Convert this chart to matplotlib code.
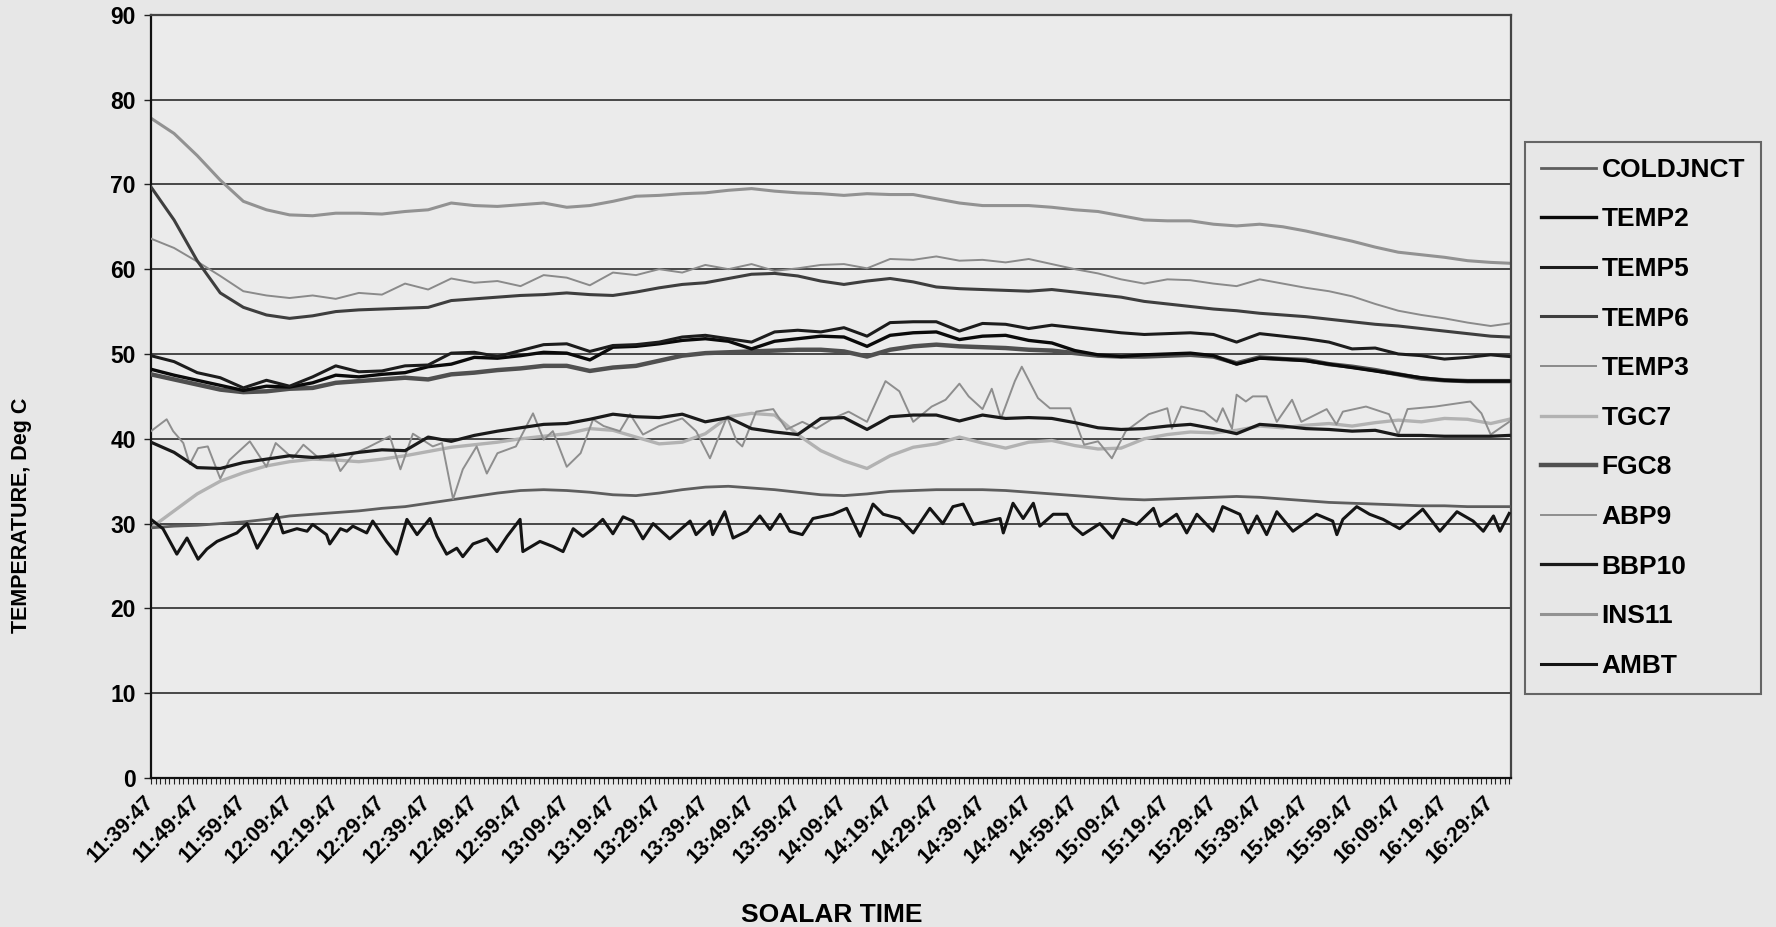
import matplotlib
matplotlib.use("Agg")
import matplotlib.pyplot as plt
from matplotlib.ticker import MultipleLocator, FixedLocator
import numpy as np

plt.rcParams.update({"font.family": "Liberation Sans", "font.weight": "bold"})

# ---- data (minutes after 11:39:47, deg C) ----
TIME_LABELS = ["11:39:47", "11:49:47", "11:59:47", "12:09:47", "12:19:47", "12:29:47",
               "12:39:47", "12:49:47", "12:59:47", "13:09:47", "13:19:47", "13:29:47",
               "13:39:47", "13:49:47", "13:59:47", "14:09:47", "14:19:47", "14:29:47",
               "14:39:47", "14:49:47", "14:59:47", "15:09:47", "15:19:47", "15:29:47",
               "15:39:47", "15:49:47", "15:59:47", "16:09:47", "16:19:47", "16:29:47"]
END_MIN = 294
M5 = np.append(np.arange(0, 291, 5), END_MIN)       # 5-minute readings

INS11 = [77.8, 76.0, 73.4, 70.5, 68.0, 67.0, 66.4, 66.3, 66.6, 66.6,
         66.5, 66.8, 67.0, 67.8, 67.5, 67.4, 67.6, 67.8, 67.3, 67.5,
         68.0, 68.6, 68.7, 68.9, 69.0, 69.3, 69.5, 69.2, 69.0, 68.9,
         68.7, 68.9, 68.8, 68.8, 68.3, 67.8, 67.5, 67.5, 67.5, 67.3,
         67.0, 66.8, 66.3, 65.8, 65.7, 65.7, 65.3, 65.1, 65.3, 65.0,
         64.5, 63.9, 63.3, 62.6, 62.0, 61.7, 61.4, 61.0, 60.8, 60.7]
TEMP6 = [69.7, 65.8, 61.0, 57.2, 55.5, 54.6, 54.2, 54.5, 55.0, 55.2,
         55.3, 55.4, 55.5, 56.3, 56.5, 56.7, 56.9, 57.0, 57.2, 57.0,
         56.9, 57.3, 57.8, 58.2, 58.4, 58.9, 59.4, 59.5, 59.2, 58.6,
         58.2, 58.6, 58.9, 58.5, 57.9, 57.7, 57.6, 57.5, 57.4, 57.6,
         57.3, 57.0, 56.7, 56.2, 55.9, 55.6, 55.3, 55.1, 54.8, 54.6,
         54.4, 54.1, 53.8, 53.5, 53.3, 53.0, 52.7, 52.4, 52.1, 52.0]
TEMP3 = [63.6, 62.5, 60.9, 59.2, 57.4, 56.9, 56.6, 56.9, 56.5, 57.2,
         57.0, 58.3, 57.6, 58.9, 58.4, 58.6, 58.0, 59.3, 59.0, 58.1,
         59.6, 59.3, 60.0, 59.6, 60.5, 60.0, 60.6, 59.8, 60.1, 60.5,
         60.6, 60.1, 61.2, 61.1, 61.5, 61.0, 61.1, 60.8, 61.2, 60.6,
         60.0, 59.5, 58.8, 58.3, 58.8, 58.7, 58.3, 58.0, 58.8, 58.3,
         57.8, 57.4, 56.8, 55.9, 55.1, 54.6, 54.2, 53.7, 53.3, 53.6]
TEMP5 = [49.8, 49.1, 47.8, 47.2, 46.0, 46.9, 46.2, 47.3, 48.6, 47.9,
         48.0, 48.6, 48.7, 50.1, 50.2, 49.7, 50.4, 51.1, 51.2, 50.3,
         51.0, 51.1, 51.4, 52.0, 52.2, 51.8, 51.4, 52.6, 52.8, 52.6,
         53.1, 52.1, 53.7, 53.8, 53.8, 52.7, 53.6, 53.5, 53.0, 53.4,
         53.1, 52.8, 52.5, 52.3, 52.4, 52.5, 52.3, 51.4, 52.4, 52.1,
         51.8, 51.4, 50.6, 50.7, 50.0, 49.8, 49.4, 49.6, 49.9, 49.7]
TEMP2 = [48.2, 47.5, 46.9, 46.3, 45.7, 46.2, 46.1, 46.6, 47.5, 47.3,
         47.6, 47.8, 48.5, 48.8, 49.6, 49.5, 49.8, 50.2, 50.1, 49.3,
         50.8, 50.9, 51.2, 51.6, 51.8, 51.5, 50.6, 51.5, 51.8, 52.1,
         52.0, 50.9, 52.2, 52.5, 52.6, 51.7, 52.1, 52.2, 51.6, 51.3,
         50.4, 49.9, 49.7, 49.9, 50.0, 50.1, 49.8, 48.8, 49.5, 49.4,
         49.2, 48.8, 48.4, 48.0, 47.6, 47.2, 46.9, 46.8, 46.8, 46.8]
FGC8 = [47.6, 47.0, 46.4, 45.8, 45.5, 45.6, 45.9, 46.0, 46.6, 46.8,
        47.0, 47.2, 47.0, 47.6, 47.8, 48.1, 48.3, 48.6, 48.6, 48.0,
        48.4, 48.6, 49.2, 49.8, 50.1, 50.2, 50.3, 50.4, 50.5, 50.5,
        50.3, 49.7, 50.5, 50.9, 51.1, 50.9, 50.8, 50.7, 50.5, 50.4,
        50.1, 49.8, 49.7, 49.7, 49.8, 49.9, 49.7, 48.9, 49.6, 49.4,
        49.3, 48.8, 48.5, 48.1, 47.6, 47.1, 46.9, 46.8, 46.8, 46.8]
BBP10 = [39.6, 38.4, 36.6, 36.5, 37.2, 37.6, 38.0, 37.8, 38.0, 38.4,
         38.7, 38.6, 40.2, 39.7, 40.4, 40.9, 41.3, 41.7, 41.8, 42.3,
         42.9, 42.6, 42.5, 42.9, 42.0, 42.5, 41.2, 40.8, 40.5, 42.4,
         42.5, 41.1, 42.6, 42.8, 42.8, 42.1, 42.8, 42.4, 42.5, 42.4,
         41.9, 41.3, 41.1, 41.2, 41.5, 41.7, 41.2, 40.6, 41.7, 41.5,
         41.2, 41.1, 40.9, 41.0, 40.4, 40.4, 40.3, 40.3, 40.3, 40.4]
COLDJNCT = [29.5, 29.7, 29.8, 30.0, 30.2, 30.5, 30.9, 31.1, 31.3, 31.5,
            31.8, 32.0, 32.4, 32.8, 33.2, 33.6, 33.9, 34.0, 33.9, 33.7,
            33.4, 33.3, 33.6, 34.0, 34.3, 34.4, 34.2, 34.0, 33.7, 33.4,
            33.3, 33.5, 33.8, 33.9, 34.0, 34.0, 34.0, 33.9, 33.7, 33.5,
            33.3, 33.1, 32.9, 32.8, 32.9, 33.0, 33.1, 33.2, 33.1, 32.9,
            32.7, 32.5, 32.4, 32.3, 32.2, 32.1, 32.1, 32.0, 32.0, 32.0]
TGC7 = [29.5, 31.5, 33.5, 35.0, 36.0, 36.8, 37.3, 37.6, 37.5, 37.3,
        37.6, 38.0, 38.5, 39.0, 39.3, 39.6, 40.0, 40.3, 40.6, 41.2,
        41.0, 40.2, 39.4, 39.6, 40.6, 42.6, 43.0, 42.8, 40.5, 38.6,
        37.4, 36.5, 38.0, 39.0, 39.4, 40.2, 39.5, 38.9, 39.6, 39.8,
        39.2, 38.8, 38.9, 40.0, 40.5, 40.8, 40.7, 41.0, 41.5, 41.3,
        41.6, 41.8, 41.5, 41.9, 42.2, 42.0, 42.4, 42.3, 41.8, 42.3]

# noisy channels, read at their own turning points
ABP9_MIN = [0, 3.4, 4.8, 7, 8.4, 10.2, 12.3, 15, 17, 21.4,
            25, 27, 30.7, 33, 36.6, 39.4, 41, 43.8, 47, 51.7,
            54, 56.7, 61, 63, 65.4, 67.5, 70.5, 72.7, 75, 79,
            82.7, 85, 87, 90, 93, 95.7, 98, 101.5, 103.7, 106.5,
            110, 115, 118, 121, 124.7, 126.8, 128, 131, 134.7, 137.6,
            141, 144, 147.6, 151, 155, 157, 159, 162, 165, 169,
            172, 175, 177, 180, 182, 184, 187, 188.5, 192, 194.6,
            199, 202, 205, 208, 211, 216, 220, 221, 223, 228,
            230.7, 232, 234, 235, 237, 238.5, 241.5, 243.7, 247, 249,
            254.5, 256.6, 258, 263, 268, 270, 272, 278, 285.6, 288,
            290, 294]
ABP9 = [40.9, 42.3, 40.9, 39.5, 37.0, 38.9, 39.1, 35.3, 37.5, 39.7,
        36.7, 39.5, 37.7, 39.3, 37.6, 38.3, 36.2, 38.2, 39.0, 40.3,
        36.4, 40.6, 39.1, 39.5, 32.9, 36.4, 39.1, 35.9, 38.3, 39.1,
        43.0, 39.9, 40.9, 36.7, 38.3, 42.3, 41.5, 40.9, 42.9, 40.5,
        41.5, 42.4, 40.9, 37.7, 42.6, 39.7, 39.1, 43.2, 43.5, 41.1,
        42.0, 41.2, 42.4, 43.2, 42.0, 44.4, 46.8, 45.6, 42.0, 43.8,
        44.6, 46.5, 45.0, 43.5, 45.9, 42.4, 46.8, 48.5, 44.8, 43.6,
        43.6, 39.3, 39.7, 37.7, 40.9, 42.9, 43.6, 41.2, 43.8, 43.2,
        42.0, 43.6, 41.2, 45.2, 44.4, 45.0, 45.0, 42.0, 44.6, 42.0,
        43.5, 41.7, 43.2, 43.8, 42.9, 40.5, 43.5, 43.8, 44.4, 43.0,
        40.5, 42.0]
AMBT_MIN = [0, 2.6, 5.6, 7.8, 10.2, 12.1, 14.3, 18.6, 20.8, 23,
            25, 27.3, 28.6, 31.6, 33.8, 35, 38, 38.7, 41, 42.4,
            43.7, 46.7, 48, 51, 53.2, 55.4, 57.6, 60.4, 61.9, 64,
            66.2, 67.5, 69.7, 72.7, 74.9, 77.1, 79.9, 80.5, 84.2, 87,
            89.2, 91.4, 93.5, 95.7, 97.8, 100, 102.2, 104.3, 106.5, 108.7,
            112.3, 116.7, 118, 121, 121.6, 124.2, 126, 129, 131.8, 134,
            136.2, 138.3, 141, 143.3, 147.6, 150.6, 153.5, 156.3, 158.5, 162,
            165, 168.6, 171.4, 173.6, 175.8, 178, 183.8, 184.5, 186.6, 188.8,
            191, 192.4, 195.3, 198.3, 199.6, 201.7, 205.4, 208.2, 210.4, 213.4,
            217, 218.4, 222, 224.2, 226.4, 229.9, 232, 235.7, 237.5, 239.4,
            241.5, 243.7, 247.2, 252.3, 255.8, 256.7, 258, 261, 263.8, 266.7,
            270.3, 275.3, 279, 282.7, 286.2, 288.4, 290.6, 292, 294]
AMBT = [30.5, 29.4, 26.4, 28.3, 25.8, 27.0, 27.9, 28.9, 30.0, 27.1,
        28.9, 31.1, 28.9, 29.4, 29.1, 29.9, 28.7, 27.6, 29.4, 29.1,
        29.7, 28.9, 30.3, 27.9, 26.4, 30.5, 28.7, 30.6, 28.5, 26.4,
        27.1, 26.1, 27.6, 28.2, 26.7, 28.5, 30.5, 26.7, 27.9, 27.3,
        26.7, 29.4, 28.5, 29.4, 30.5, 28.8, 30.8, 30.3, 28.2, 30.0,
        28.2, 30.3, 28.7, 30.3, 28.7, 31.4, 28.3, 29.1, 30.9, 29.3,
        31.1, 29.1, 28.7, 30.6, 31.1, 31.8, 28.5, 32.3, 31.1, 30.6,
        28.9, 31.8, 30.0, 32.0, 32.3, 29.9, 30.6, 28.9, 32.4, 30.6,
        32.4, 29.7, 31.1, 31.1, 29.7, 28.7, 30.0, 28.3, 30.5, 29.9,
        31.8, 29.7, 31.1, 28.9, 31.1, 29.1, 32.0, 31.1, 28.9, 30.9,
        28.7, 31.4, 29.1, 31.1, 30.3, 28.7, 30.5, 32.0, 31.1, 30.5,
        29.4, 31.7, 29.1, 31.4, 30.3, 29.1, 30.9, 29.1, 31.2]

# ---- styling: grey-scale like the scanned original ----
BG = "#e7e7e7"
series = {  # name: (x, y, colour, width, z)
    "COLDJNCT": (M5, COLDJNCT, "#5e5e5e", 2.0, 3),
    "TEMP2": (M5, TEMP2, "#0a0a0a", 2.4, 6),
    "TEMP5": (M5, TEMP5, "#1c1c1c", 2.2, 6),
    "TEMP6": (M5, TEMP6, "#3e3e3e", 2.2, 4),
    "TEMP3": (M5, TEMP3, "#8a8a8a", 1.4, 3),
    "TGC7": (M5, TGC7, "#b2b2b2", 2.4, 2),
    "FGC8": (M5, FGC8, "#505050", 3.2, 5),
    "ABP9": (ABP9_MIN, ABP9, "#8e8e8e", 1.4, 3),
    "BBP10": (M5, BBP10, "#1a1a1a", 2.3, 5),
    "INS11": (M5, INS11, "#929292", 2.2, 2),
    "AMBT": (AMBT_MIN, AMBT, "#141414", 2.2, 6),
}

fig = plt.figure(figsize=(17.76, 9.27), dpi=100, facecolor=BG)
ax = fig.add_axes([0.0850, 0.1607, 0.7658, 0.8234], facecolor="#ebebeb")

handles = []
for name, (x, y, col, lw, z) in series.items():
    h, = ax.plot(x, y, color=col, lw=lw, zorder=z, solid_joinstyle="round", label=name)
    handles.append(h)

ax.set_xlim(0, 294.4)
ax.set_ylim(0, 90)
ax.yaxis.set_major_locator(MultipleLocator(10))
ax.grid(axis="y", color="#3a3a3a", lw=1.3, zorder=1)
ax.set_axisbelow(True)

ax.xaxis.set_major_locator(FixedLocator(np.arange(0, 291, 10)))
ax.xaxis.set_minor_locator(MultipleLocator(1))
ax.set_xticklabels(TIME_LABELS, rotation=45, ha="right", va="center",
                   rotation_mode="anchor", fontsize=15.5, fontweight="bold")
ax.tick_params(axis="x", which="both", length=4, width=0.8, color="#222", pad=11)
ax.tick_params(axis="y", length=5, width=1, color="#222", pad=6, labelsize=16.5)
for lab in ax.get_yticklabels():
    lab.set_fontweight("bold")

for s in ("left", "bottom"):
    ax.spines[s].set_color("#111")
    ax.spines[s].set_linewidth(1.6)
for s in ("top", "right"):
    ax.spines[s].set_color("#444")
    ax.spines[s].set_linewidth(1.6)

fig.text(22 / 1776, 1 - 515 / 927, "TEMPERATURE, Deg C", rotation=90,
         ha="center", va="center", fontsize=15.5, fontweight="bold")
fig.text(832 / 1776, 1 - 915 / 927, "SOALAR TIME", ha="center", va="center",
         fontsize=19, fontweight="bold")

leg = fig.legend(handles, list(series.keys()), loc="upper left",
                 bbox_to_anchor=(1525 / 1776, 1 - 142 / 927), borderaxespad=0,
                 prop={"family": "Liberation Sans", "weight": "bold", "size": 19},
                 handlelength=2.1, handletextpad=0.2, labelspacing=0.97,
                 borderpad=0.6, fancybox=False, frameon=True)
leg.get_frame().set_facecolor(BG)
leg.get_frame().set_edgecolor("#444")
leg.get_frame().set_linewidth(1.5)

fig.savefig("out.png", dpi=100, facecolor=BG)
